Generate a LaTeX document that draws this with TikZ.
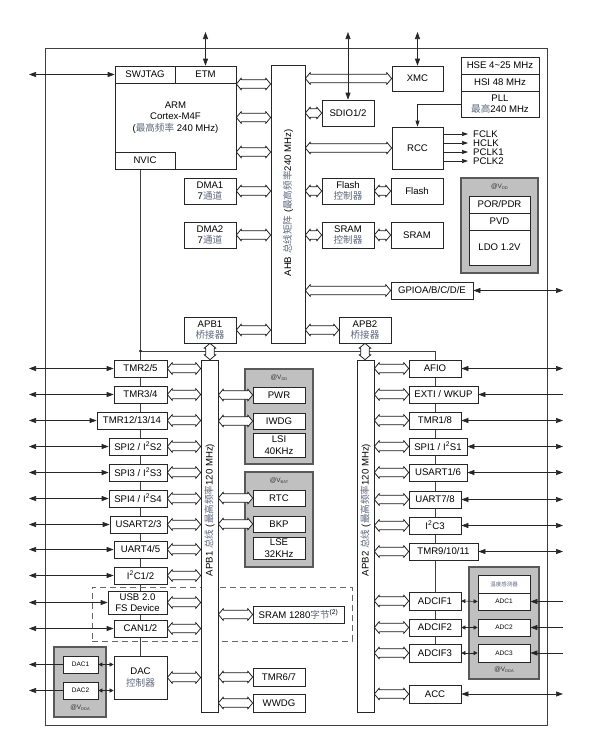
\documentclass[tikz,border=0pt]{standalone}
\usepackage{fontspec}
\setmainfont{Liberation Sans}
\newfontfamily\cjkf{Noto Sans CJK SC}
\usetikzlibrary{arrows.meta,backgrounds,calc}
\definecolor{cngray}{RGB}{95,105,125}
\definecolor{boxgray}{RGB}{192,192,192}
\newcommand\cn[1]{{\cjkf\color{cngray}#1}}
\newcommand\vlab[1]{@V\raisebox{-0.8pt}{\fontsize{4}{4}\selectfont #1}}
\newcommand\bx[7][]{\node[blk,minimum width={(#5-#3)*1pt},minimum height={(#6-#4)*1pt},#1] (#2) at ({(#3+#5)/2},{(#4+#6)/2}) {#7};}
% hollow double-headed bus arrow, horizontal (first point on the left)
\newcommand\hbus[2]{\draw[busl] let \p1=(#1), \p2=(#2) in
 (\x1,\y1) -- (\x1+5pt,\y1+6pt) -- (\x1+5pt,\y1+4.3pt) -- (\x2-5pt,\y1+4.3pt) -- (\x2-5pt,\y1+6pt) -- (\x2,\y1)
 -- (\x2-5pt,\y1-6pt) -- (\x2-5pt,\y1-4.3pt) -- (\x1+5pt,\y1-4.3pt) -- (\x1+5pt,\y1-6pt) -- cycle;}
% vertical (first point on top)
\newcommand\vbus[2]{\draw[busl] let \p1=(#1), \p2=(#2) in
 (\x1,\y1) -- (\x1+6pt,\y1-5pt) -- (\x1+4.3pt,\y1-5pt) -- (\x1+4.3pt,\y2+5pt) -- (\x1+6pt,\y2+5pt) -- (\x1,\y2)
 -- (\x1-6pt,\y2+5pt) -- (\x1-4.3pt,\y2+5pt) -- (\x1-4.3pt,\y1-5pt) -- (\x1-6pt,\y1-5pt) -- cycle;}
\begin{document}
\begin{tikzpicture}[x=1pt,y=-1pt,font=\fontsize{9.6}{11.5}\selectfont,
 blk/.style={draw=black!85,fill=white,line width=0.7pt,inner sep=0pt,align=center},
 gbox/.style={draw=black!65,fill=boxgray,line width=1.3pt},
 busl/.style={draw=black!90,line width=0.75pt,fill=white,line join=round},
 arr2/.style={draw=black!85,line width=0.7pt,{Triangle[length=7pt,width=5pt]}-{Triangle[length=7pt,width=5pt]}},
 arrin/.style={draw=black!85,line width=0.7pt,-{Triangle[length=7pt,width=5pt]}},
 arrck/.style={draw=black!85,line width=0.7pt,-{Triangle[length=6pt,width=4pt]}},
 arrsm/.style={draw=black!85,line width=0.6pt,{Triangle[length=4pt,width=4pt]}-{Triangle[length=4pt,width=4pt]}},
 wire/.style={draw=black!75,line width=0.7pt},
 lbl/.style={inner sep=0pt,font=\fontsize{6.5}{7}\selectfont,text=black!80},
 small/.style={font=\fontsize{6.5}{7.5}\selectfont}]
\useasboundingbox (0,0) rectangle (596,748);
\coordinate (L) at (29,0);
\coordinate (R) at (563,0);
\coordinate (T) at (0,32);
\coordinate (jn) at (140.5,351);
\coordinate (clkx) at (468,0);
\coordinate (clklab) at (473,0);

% frame and dashed group
\bx[fill=none,draw=black!75,line width=0.8pt]{frame}{45}{48}{547}{725}{}
\bx[fill=none,draw=black!60,line width=0.8pt,dash pattern=on 6pt off 4pt]{dashbox}{92}{587}{352}{641}{}

% ===== top part =====
\bx{arm}{115}{66}{236}{169}{ARM\\Cortex-M4F\\(\cn{最高频率} 240 MHz)}
\bx{swj}{115}{66}{175}{83}{SWJTAG}
\bx{etm}{175}{66}{236}{83}{ETM}
\bx{nvic}{115}{152}{175}{169}{NVIC}
\bx{ahb}{271}{65}{305}{343}{}
\node[rotate=90,inner sep=0pt] (ahblab) at (288,203) {AHB \cn{总线矩阵} (\cn{最高频率}240 MHz)};
\bx{xmc}{392}{66}{443}{91}{XMC}
\bx{sdio}{322}{100}{374}{126}{SDIO1/2}
\bx{hse}{461}{57}{539}{74}{HSE 4\textasciitilde25 MHz}
\bx{hsi}{461}{74}{539}{91}{HSI 48 MHz}
\bx{pll}{461}{91}{539}{117}{PLL\\\cn{最高}240 MHz}
\bx{rcc}{392}{127}{443}{169}{RCC}
\bx{dma1}{184}{178}{236}{204}{DMA1\\7\cn{通道}}
\bx{dma2}{184}{222}{236}{248}{DMA2\\7\cn{通道}}
\bx{fctl}{322}{178}{374}{204}{Flash\\\cn{控制器}}
\bx{flash}{391}{178}{443}{204}{Flash}
\bx{sctl}{322}{222}{374}{248}{SRAM\\\cn{控制器}}
\bx{sram}{391}{222}{443}{248}{SRAM}
\bx[gbox]{vddtop}{461}{178}{538}{273}{}
\node[lbl] (vddtoplab) at (499.5,187) {\vlab{DD}};
\bx{por}{469}{196}{530}{213}{POR/PDR}
\bx{pvd}{469}{213}{530}{230}{PVD}
\bx{ldo}{469}{230}{530}{265}{LDO 1.2V}
\bx{gpio}{391}{282}{473}{299}{GPIOA/B/C/D/E}
\bx{apb1br}{184}{317}{236}{343}{APB1\\\cn{桥接器}}
\bx{apb2br}{339}{317}{391}{343}{APB2\\\cn{桥接器}}

% ===== buses =====
\bx{apb1}{201}{360}{218}{712}{}
\bx{apb2}{357}{360}{374}{712}{}
\node[rotate=90,inner sep=0pt] (apb1lab) at (209.5,510) {APB1 \cn{总线} (\cn{最高频率}120 MHz)};
\node[rotate=90,inner sep=0pt] (apb2lab) at (365.5,510) {APB2 \cn{总线} (\cn{最高频率}120 MHz)};

% ===== left column =====
\bx{tmr25}{114}{360}{167}{377}{TMR2/5}
\bx{tmr34}{114}{386}{167}{403}{TMR3/4}
\bx{tmr12}{97}{412}{167}{429}{TMR12/13/14}
\bx{spi2}{109}{438}{167}{455}{SPI2 / I\textsuperscript{2}S2}
\bx{spi3}{109}{464}{167}{481}{SPI3 / I\textsuperscript{2}S3}
\bx{spi4}{109}{490}{167}{507}{SPI4 / I\textsuperscript{2}S4}
\bx{usart23}{110}{516}{167}{533}{USART2/3}
\bx{uart45}{114}{541}{167}{558}{UART4/5}
\bx{i2c12}{114}{567}{167}{584}{I\textsuperscript{2}C1/2}
\bx[font=\fontsize{9.6}{10.5}\selectfont]{usb}{108}{591}{167}{614}{USB 2.0\\FS Device}
\bx{can}{114}{620}{167}{637}{CAN1/2}
\bx{dac}{114}{656}{167}{699}{DAC\\\cn{控制器}}
\bx[gbox]{dacg}{54}{647}{106}{717}{}
\bx[small]{dac1}{63}{656}{98}{673}{DAC1}
\bx[small]{dac2}{63}{682}{98}{699}{DAC2}
\node[lbl] (dacglab) at (80,708) {\vlab{DDA}};

% ===== middle column =====
\bx[gbox]{vddg}{245}{369}{313}{464}{}
\node[lbl] (vddglab) at (279,378) {\vlab{DD}};
\bx{pwr}{253}{387}{305}{403}{PWR}
\bx{iwdg}{253}{413}{305}{429}{IWDG}
\bx{lsi}{253}{433}{305}{457}{LSI\\40KHz}
\bx[gbox]{vbatg}{245}{472}{313}{567}{}
\node[lbl] (vbatglab) at (279,481) {\vlab{BAT}};
\bx{rtc}{253}{490}{305}{506}{RTC}
\bx{bkp}{253}{516}{305}{532}{BKP}
\bx{lse}{253}{537}{305}{559}{LSE\\32KHz}
\bx{sram1280}{253}{606}{344}{623}{SRAM 1280\cn{字节}\textsuperscript{(2)}}
\bx{tmr67}{253}{668}{305}{686}{TMR6/7}
\bx{wwdg}{253}{694}{305}{712}{WWDG}

% ===== right column =====
\bx{afio}{409}{360}{461}{377}{AFIO}
\bx{exti}{409}{386}{478}{403}{EXTI / WKUP}
\bx{tmr18}{409}{412}{461}{429}{TMR1/8}
\bx{spi1}{409}{438}{467}{455}{SPI1 / I\textsuperscript{2}S1}
\bx{usart16}{409}{464}{467}{481}{USART1/6}
\bx{uart78}{409}{491}{461}{508}{UART7/8}
\bx{i2c3}{409}{517}{461}{534}{I\textsuperscript{2}C3}
\bx{tmr9}{409}{543}{478}{560}{TMR9/10/11}
\bx{adcif1}{409}{592}{461}{610}{ADCIF1}
\bx{adcif2}{409}{619}{461}{636}{ADCIF2}
\bx{adcif3}{409}{644}{461}{662}{ADCIF3}
\bx{acc}{409}{685}{461}{703}{ACC}
\bx[gbox]{adcg}{469}{567}{539}{679}{}
\bx[font=\fontsize{5.5}{6}\selectfont]{temp}{478}{575}{530}{593}{\cn{温度感测器}}
\bx[small]{adc1}{478}{593}{530}{610}{ADC1}
\bx[small]{adc2}{478}{619}{530}{636}{ADC2}
\bx[small]{adc3}{478}{644}{530}{662}{ADC3}
\node[lbl] (adcglab) at (504,670) {\vlab{DDA}};

% ===== background wires =====
\begin{pgfonlayer}{background}
\draw[wire] (nvic.south -| dac.north) -- (dac.north);
\draw[wire] (jn) -- (jn -| afio.north) -- (adcif3.north);
\end{pgfonlayer}
\fill[black!85] (jn) circle (1.6);

% ===== AHB connections =====
\coordinate (arm1) at ([yshift=33.5pt]arm.east);
\coordinate (arm2) at ([yshift=0pt]arm.east);
\coordinate (arm3) at ([yshift=-34.5pt]arm.east);
\foreach \b in {arm1,arm2,arm3} {\hbus{\b}{\b -| ahb.west}}
\foreach \b in {dma1,dma2,apb1br} {\hbus{\b.east}{\b.east -| ahb.west}}
\foreach \b in {xmc,sdio,rcc,fctl,sctl,gpio,apb2br} {\hbus{ahb.east |- \b.west}{\b.west}}
\hbus{fctl.east}{flash.west}
\hbus{sctl.east}{sram.west}
\vbus{apb1br.south}{apb1br.south |- apb1.north}
\vbus{apb2br.south}{apb2br.south |- apb2.north}

% ===== APB connections =====
\foreach \b in {tmr25,tmr34,tmr12,spi2,spi3,spi4,usart23,uart45,i2c12,usb,can,dac}
  {\hbus{\b.east}{\b.east -| apb1.west}}
\foreach \b in {pwr,iwdg,rtc,bkp,sram1280,tmr67,wwdg}
  {\hbus{apb1.east |- \b.west}{\b.west}}
\foreach \b in {afio,exti,tmr18,spi1,usart16,uart78,i2c3,tmr9,adcif1,adcif2,adcif3,acc}
  {\hbus{apb2.east |- \b.west}{\b.west}}

% ===== external pins =====
\draw[arr2] (swj.west -| L) -- (swj.west);
\foreach \b in {etm,sdio,xmc} {\draw[arr2] (\b.north |- T) -- (\b.north);}
\foreach \b in {tmr25,tmr34,tmr12,spi2,spi3,spi4,usart23,uart45,i2c12,usb,can}
  {\draw[arr2] (\b.west -| L) -- (\b.west);}
\foreach \b in {gpio,afio,tmr18,spi1,usart16,uart78,i2c3,tmr9,acc}
  {\draw[arr2] (\b.east) -- (\b.east -| R);}
\draw[arrin] (exti.east -| R) -- (exti.east);
\foreach \b in {adc1,adc2,adc3} {\draw[arrin] (\b.east -| R) -- (\b.east);}
\foreach \b in {dac1,dac2} {
  \draw[arrin] (\b.west) -- (\b.west -| L);
  \draw[arrsm] (\b.east) -- (\b.east -| dac.west);
}
\draw[arrsm] (adcif1.east) -- (adc1.west);
\draw[arrsm] (adcif2.east) -- (adc2.west);
\draw[arrsm] (adcif3.east) -- (adc3.west);

% ===== clocks =====
\draw[arrck] (pll.west) -| (rcc.north);
\foreach \lab/\dy [count=\i] in {FCLK/14,HCLK/5,PCLK1/-4,PCLK2/-13} {
  \coordinate (c\i) at ([yshift=\dy*1pt]rcc.east);
  \draw[arrck] (c\i) -- (c\i -| clkx);
  \node[anchor=west,inner sep=0pt] (clk\i) at (c\i -| clklab) {\lab};
}
\end{tikzpicture}
\end{document}
